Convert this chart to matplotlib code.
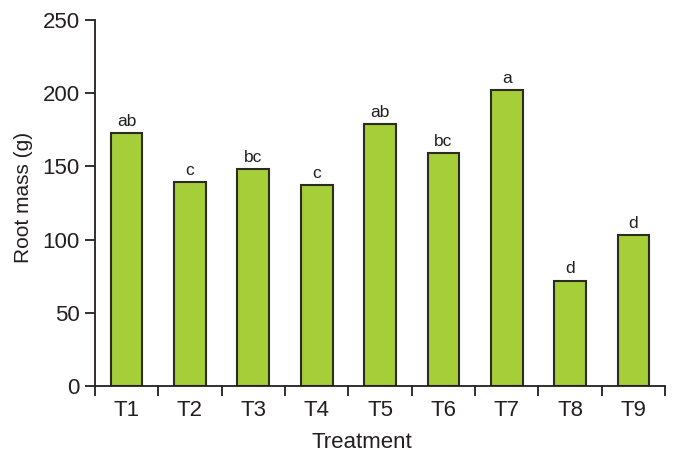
import numpy as np
import matplotlib.pyplot as plt

plt.rcParams['font.family'] = ['Liberation Sans', 'DejaVu Sans']

# Данные
treatments = ['T1', 'T2', 'T3', 'T4', 'T5', 'T6', 'T7', 'T8', 'T9']
root_mass = [173, 139, 148, 137, 179, 159, 202, 72, 103]
letters = ['ab', 'c', 'bc', 'c', 'ab', 'bc', 'a', 'd', 'd']

fig = plt.figure(figsize=(6.78, 4.65), dpi=100)
ax = fig.add_axes([0.140, 0.170, 0.841, 0.787])

x = np.arange(len(treatments))
ax.bar(x, root_mass, width=0.5, color='#a6ce39', edgecolor='#2b2b20', linewidth=1.5, zorder=2)

# Буквы значимости над столбцами
for xi, v, s in zip(x, root_mass, letters):
    ax.annotate(s, (xi, v), xytext=(0, 3), textcoords='offset points',
                ha='center', va='bottom', fontsize=12.5, color='#231f20')

ax.set_xlim(-0.5, len(treatments) - 0.5)
ax.set_ylim(0, 250)
ax.set_yticks(np.arange(0, 251, 50))
ax.set_xticks(x)
ax.set_xticklabels(treatments)
ax.set_xticks(np.arange(-0.5, len(treatments)), minor=True)

ax.spines['top'].set_visible(False)
ax.spines['right'].set_visible(False)
for sp in ['left', 'bottom']:
    ax.spines[sp].set_color('#231f20')
    ax.spines[sp].set_linewidth(1.3)

ax.tick_params(axis='x', which='major', length=0, pad=10, labelsize=16, colors='#231f20')
ax.tick_params(axis='x', which='minor', length=7, width=1.3, color='#231f20')
ax.tick_params(axis='y', length=7, width=1.3, labelsize=16, colors='#231f20', pad=4)

ax.set_xlabel('Treatment', fontsize=16, color='#231f20')
ax.set_ylabel('Root mass (g)', fontsize=15, color='#231f20')
ax.xaxis.set_label_coords(0.469, -0.125)
ax.yaxis.set_label_coords(-0.108, 0.515)

fig.savefig('out.png', dpi=100)
